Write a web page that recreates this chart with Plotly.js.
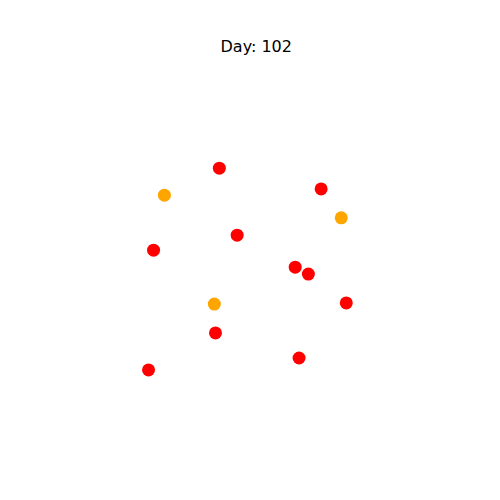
<!DOCTYPE html>
<html>
<head>
<script src="https://cdn.plot.ly/plotly-3.0.1.min.js"></script>
<style>html,body{margin:0;padding:0;background:#fff;}</style>
</head>
<body>
<div id="chart" style="width:500px;height:500px;"></div>
<script>
var redX = [4.04, 6.67, 4.50, 2.34, 6.00, 6.34, 7.32, 3.94, 6.10, 2.21];
var redY = [7.19, 6.65, 5.45, 5.06, 4.62, 4.44, 3.69, 2.91, 2.26, 1.95];
var orangeX = [2.62, 7.19, 3.91];
var orangeY = [6.49, 5.90, 3.66];
var dayLabel = "Day: 102";

var traces = [
  {x: redX, y: redY, mode: "markers", type: "scatter",
   marker: {color: "#ff0000", size: 13}},
  {x: orangeX, y: orangeY, mode: "markers", type: "scatter",
   marker: {color: "#ffa500", size: 13}}
];
var layout = {
  width: 500, height: 500,
  margin: {l: 62.5, r: 50, t: 60, b: 55, pad: 0},
  paper_bgcolor: "#fff", plot_bgcolor: "#fff",
  showlegend: false,
  title: {text: dayLabel, font: {family: "DejaVu Sans", size: 16, color: "#000"},
          x: 0.5125, xanchor: "center", y: 0.908, yanchor: "middle"},
  xaxis: {range: [0, 10], visible: false, showgrid: false, zeroline: false},
  yaxis: {range: [0, 10], visible: false, showgrid: false, zeroline: false}
};
Plotly.newPlot("chart", traces, layout, {displayModeBar: false, staticPlot: true});
</script>
</body>
</html>
